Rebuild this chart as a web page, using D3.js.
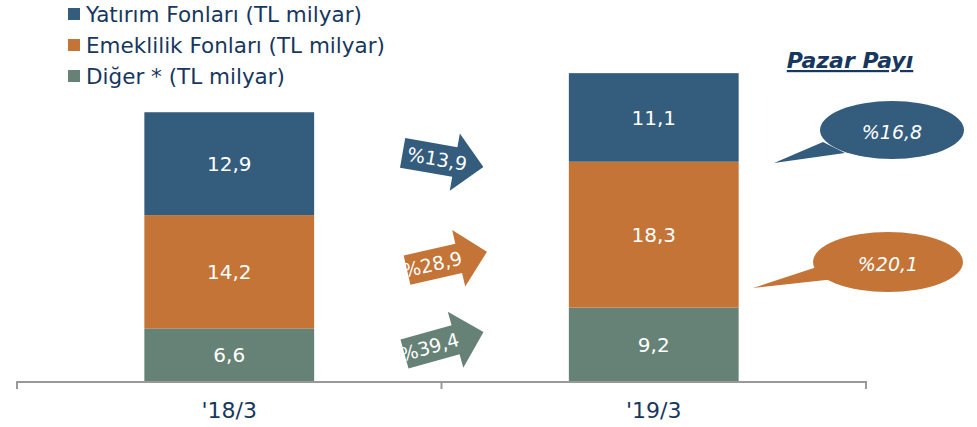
<!DOCTYPE html>
<html>
<head>
<meta charset="utf-8">
<script src="https://cdn.jsdelivr.net/npm/d3@7"></script>
<style>
  body { margin: 0; background: #fff; }
  text { font-family: "DejaVu Sans", Verdana, sans-serif; }
</style>
</head>
<body>
<script>
// Boyutlar
const width = 977;
const height = 427;

// Veriler
const donemler = ["'18/3", "'19/3"];
const seriler = ["Yatırım Fonları (TL milyar)", "Emeklilik Fonları (TL milyar)", "Diğer * (TL milyar)"];
const yatirim = [12.9, 11.1];
const emeklilik = [14.2, 18.3];
const diger = [6.6, 9.2];
const buyume = ["%13,9", "%28,9", "%39,4"];
const pazarPayi = ["%16,8", "%20,1"];

const renkler = ["#335c7d", "#c37436", "#668276"];
const lacivert = "#17375e";

const svg = d3.select("body").append("svg")
  .attr("width", width)
  .attr("height", height);

// Ölçekler
const x = d3.scaleBand().domain(donemler).range([17, 866]).padding(0);
const y = d3.scaleLinear().domain([0, 40]).range([381, 62]);

// Yığılmış veri (alttan üste: diğer, emeklilik, yatırım)
const tablo = donemler.map((d, i) => ({ donem: d, diger: diger[i], emeklilik: emeklilik[i], yatirim: yatirim[i] }));
const anahtarlar = ["diger", "emeklilik", "yatirim"];
const renkMap = { yatirim: renkler[0], emeklilik: renkler[1], diger: renkler[2] };
const yigin = d3.stack().keys(anahtarlar)(tablo);

const barW = x.bandwidth() * 0.4;
const fmt = v => String(v.toFixed(1)).replace(".", ",");

const katman = svg.append("g").selectAll("g")
  .data(yigin)
  .enter().append("g")
  .attr("fill", d => renkMap[d.key]);

katman.selectAll("rect")
  .data(d => d)
  .enter().append("rect")
  .attr("x", d => x(d.data.donem) + (x.bandwidth() - barW) / 2)
  .attr("y", d => y(d[1]))
  .attr("width", barW)
  .attr("height", d => y(d[0]) - y(d[1]));

katman.selectAll("text")
  .data(d => d.map(v => ({ v: v, key: d.key })))
  .enter().append("text")
  .attr("x", d => x(d.v.data.donem) + x.bandwidth() / 2)
  .attr("y", d => (y(d.v[0]) + y(d.v[1])) / 2)
  .attr("dy", "0.36em")
  .attr("text-anchor", "middle")
  .attr("fill", "#fff")
  .attr("font-size", 20)
  .text(d => fmt(d.v.data[d.key]));

// Eksen
const eksen = svg.append("g").attr("stroke", "#999").attr("stroke-width", 2);
eksen.append("line")
  .attr("x1", x.range()[0]).attr("x2", x.range()[1])
  .attr("y1", y(0) + 1).attr("y2", y(0) + 1);
const sinirlar = donemler.map(d => x(d)).concat([x.range()[1]]);
eksen.selectAll(".tick")
  .data(sinirlar)
  .enter().append("line")
  .attr("x1", d => d).attr("x2", d => d)
  .attr("y1", y(0)).attr("y2", y(0) + 8);

svg.append("g").selectAll("text")
  .data(donemler)
  .enter().append("text")
  .attr("x", d => x(d) + x.bandwidth() / 2)
  .attr("y", 418)
  .attr("text-anchor", "middle")
  .attr("fill", lacivert)
  .attr("font-family", "DejaVu Sans Condensed")
  .attr("font-size", 22)
  .text(d => d);

// Lejant
const lejant = svg.append("g").selectAll("g")
  .data(seriler)
  .enter().append("g")
  .attr("transform", (d, i) => `translate(68, ${14 + i * 31})`);
lejant.append("rect")
  .attr("x", 0).attr("y", -6)
  .attr("width", 12).attr("height", 12)
  .attr("fill", (d, i) => renkler[i]);
lejant.append("text")
  .attr("x", 18)
  .attr("dy", "0.36em")
  .attr("fill", lacivert)
  .attr("font-size", 21.5)
  .text(d => d);

// Büyüme okları
const okYer = [[443, 160, 10], [447, 261, -13], [444, 343, -15.5]];
const okYol = "M-41,-15 L12,-15 L12,-29 L41,0 L12,29 L12,15 L-41,15 Z";
const oklar = svg.append("g").selectAll("g")
  .data(buyume)
  .enter().append("g")
  .attr("transform", (d, i) => `translate(${okYer[i][0]},${okYer[i][1]}) rotate(${okYer[i][2]})`);
oklar.append("path")
  .attr("d", okYol)
  .attr("fill", (d, i) => renkler[i]);
oklar.append("text")
  .attr("x", (d, i) => i === 0 ? -6 : -15)
  .attr("dy", "0.36em")
  .attr("text-anchor", "middle")
  .attr("fill", "#fff")
  .attr("font-size", 19)
  .text(d => d);

// Pazar payı
svg.append("text")
  .attr("x", 850).attr("y", 68)
  .attr("text-anchor", "middle")
  .attr("fill", lacivert)
  .attr("font-size", 22)
  .attr("font-weight", "bold")
  .attr("font-style", "italic")
  .attr("text-decoration", "underline")
  .text("Pazar Payı");

const balonYer = [
  { cx: 892, cy: 130, rx: 72, ry: 29, uc: [774, 163], t1: [823, 142], t2: [845, 153] },
  { cx: 888, cy: 262, rx: 75, ry: 30, uc: [753, 288], t1: [817, 267], t2: [835, 279] }
];
const balon = svg.append("g").selectAll("g")
  .data(pazarPayi)
  .enter().append("g")
  .attr("fill", (d, i) => renkler[i]);
balon.append("path")
  .attr("d", (d, i) => {
    const b = balonYer[i];
    return `M${b.t1[0]},${b.t1[1]} L${b.uc[0]},${b.uc[1]} L${b.t2[0]},${b.t2[1]} Z`;
  });
balon.append("ellipse")
  .attr("cx", (d, i) => balonYer[i].cx)
  .attr("cy", (d, i) => balonYer[i].cy)
  .attr("rx", (d, i) => balonYer[i].rx)
  .attr("ry", (d, i) => balonYer[i].ry);
balon.append("text")
  .attr("x", (d, i) => balonYer[i].cx)
  .attr("y", (d, i) => balonYer[i].cy + 2)
  .attr("dy", "0.36em")
  .attr("text-anchor", "middle")
  .attr("fill", "#fff")
  .attr("font-size", 19)
  .attr("font-style", "italic")
  .text(d => d);
</script>
</body>
</html>
